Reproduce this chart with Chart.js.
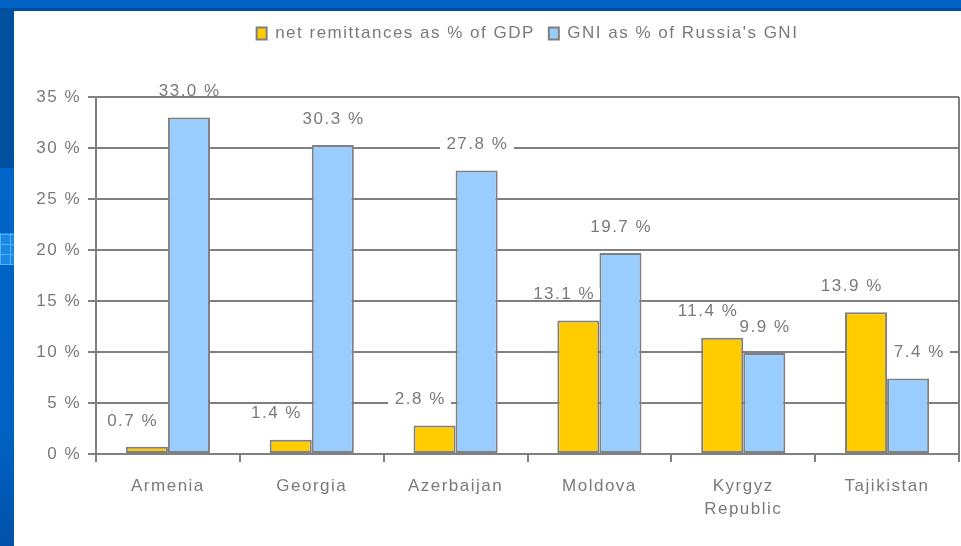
<!DOCTYPE html>
<html>
<head>
<meta charset="utf-8">
<script src="https://cdn.jsdelivr.net/npm/chart.js@4.4.1/dist/chart.umd.min.js"></script>
<style>
html,body{margin:0;padding:0;width:961px;height:546px;overflow:hidden;background:#fff;}
#left{position:absolute;left:0;top:0;width:14px;height:546px;
  background:linear-gradient(#0050A0 0,#0050A0 168px,#0064C8 168px,#0062C4 430px,#0052A8 546px);}
#pat{position:absolute;left:0;top:233px;width:14px;height:32px;background-color:#1C88E4;
  background-image:repeating-linear-gradient(0deg,rgba(90,190,255,.8) 0 1px,transparent 1px 10px),
                   repeating-linear-gradient(90deg,rgba(90,190,255,.8) 0 1px,transparent 1px 10px);}
#top{position:absolute;left:0;top:0;width:961px;height:11px;
  background:linear-gradient(#0062C4 0,#0062C4 8px,#004E9C 8px,#004E9C 11px);}
#wrap{position:absolute;left:14px;top:11px;width:947px;height:535px;}
</style>
</head>
<body>
<div id="left"></div><div id="pat"></div><div id="top"></div>
<div id="wrap"><canvas id="c" width="947" height="535"></canvas></div>
<script>
const categories = ['Armenia', 'Georgia', 'Azerbaijan', 'Moldova', ['Kyrgyz', 'Republic'], 'Tajikistan'];
const remittancesPctGDP = [0.7, 1.4, 2.8, 13.1, 11.4, 13.9];
const gniPctRussia = [33.0, 30.3, 27.8, 19.7, 9.9, 7.4];
const seriesNames = ['net remittances as % of GDP', "GNI as % of Russia's GNI"];
const yMin = 0, yMax = 35, yStep = 5;

const GREY = '#7a7a7a';
const FONT = {family: '"Liberation Sans", Arial, sans-serif', size: 17, lineHeight: 1.4};
const SPACING = '1.5px';

const spacingPlugin = {
  id: 'spacing',
  beforeLayout(c) { c.ctx.letterSpacing = SPACING; },
  beforeDraw(c) { c.ctx.letterSpacing = SPACING; }
};

const legendGap = {
  id: 'legendGap',
  beforeLayout(c) {
    const lg = c.legend;
    if (lg && !lg._gapPatched) {
      const f = lg.fit;
      lg.fit = function () { f.call(this); this.height += 45; };
      lg._gapPatched = true;
    }
  }
};

const valueLabels = {
  id: 'valueLabels',
  afterDatasetsDraw(c) {
    const ctx = c.ctx;
    ctx.save();
    ctx.letterSpacing = SPACING;
    ctx.font = '17px "Liberation Sans", Arial, sans-serif';
    ctx.textAlign = 'center';
    ctx.textBaseline = 'middle';
    const first = c.getDatasetMeta(0).data;
    c.data.datasets.forEach((ds, di) => {
      const meta = c.getDatasetMeta(di);
      meta.data.forEach((bar, i) => {
        const txt = ds.data[i].toFixed(1) + ' %';
        const w = ctx.measureText(txt).width;
        const y = bar.y - 26;
        let x = bar.x + (di === 0 ? -15 : 0);
        if (di === 1) {
          const nb = first[i];
          const nbRight = nb.x + nb.width / 2;
          if (nb.y < y + 10 && x - w / 2 < nbRight + 6) x = nbRight + 6 + w / 2;
        }
        ctx.fillStyle = '#ffffff';
        ctx.fillRect(Math.round(x - w / 2 - 6), Math.round(y - 6), Math.round(w + 12), 11);
        ctx.fillStyle = GREY;
        ctx.fillText(txt, x + 0.75, y);
      });
    });
    ctx.restore();
  }
};

new Chart(document.getElementById('c'), {
  type: 'bar',
  data: {
    labels: categories,
    datasets: [
      {label: seriesNames[0], data: remittancesPctGDP, backgroundColor: '#FFCC00', borderColor: '#808080', borderWidth: 2, borderSkipped: false},
      {label: seriesNames[1], data: gniPctRussia, backgroundColor: '#99CCFF', borderColor: '#808080', borderWidth: 2, borderSkipped: false}
    ]
  },
  options: {
    responsive: false,
    animation: false,
    layout: {padding: {left: 0, right: 2, top: 0, bottom: 0}},
    datasets: {bar: {barPercentage: 1, categoryPercentage: 0.585}},
    plugins: {
      legend: {
        position: 'top',
        fullSize: false,
        labels: {color: GREY, font: FONT, boxWidth: 10, boxHeight: 12, padding: 14}
      },
      tooltip: {enabled: false}
    },
    scales: {
      x: {
        afterFit(s) { s.height = 92; },
        grid: {
          offset: true,
          color: (ctx) => (ctx.type === 'scale' || ctx.index === categories.length) ? '#808080' : 'rgba(0,0,0,0)',
          tickColor: '#808080',
          lineWidth: 2,
          tickLength: 8
        },
        border: {display: true, color: '#808080', width: 2},
        ticks: {color: GREY, font: FONT, padding: 12, maxRotation: 0, autoSkip: false}
      },
      y: {
        min: yMin, max: yMax,
        afterFit(s) { s.width = 82; },
        grid: {color: '#808080', lineWidth: 2, tickLength: 8, tickColor: '#808080'},
        border: {display: true, color: '#808080', width: 2},
        ticks: {stepSize: yStep, color: GREY, font: FONT, padding: 7, callback: (v) => v + ' %'}
      }
    }
  },
  plugins: [spacingPlugin, legendGap, valueLabels]
});
</script>
</body>
</html>
